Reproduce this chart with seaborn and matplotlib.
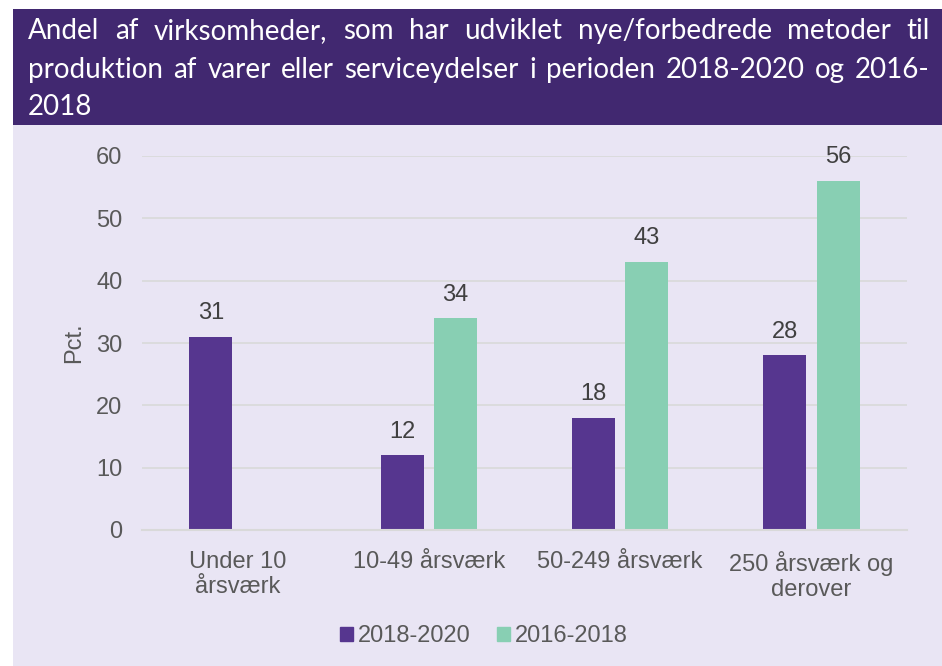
import matplotlib
matplotlib.use("Agg")
import matplotlib.pyplot as plt
import pandas as pd
import seaborn as sns
from matplotlib.patches import Rectangle

# data
categories = ["Under 10\nårsværk", "10-49 årsværk", "50-249 årsværk", "250 årsværk og\nderover"]
series = ["2018-2020", "2016-2018"]
vals_2018_2020 = [31, 12, 18, 28]
vals_2016_2018 = [None, 34, 43, 56]
yticks = [0, 10, 20, 30, 40, 50, 60]

title_lines = [
    "Andel af virksomheder, som har udviklet nye/forbedrede metoder til",
    "produktion af varer eller serviceydelser i perioden 2018-2020 og 2016-",
    "2018",
]

purple = "#56368F"
green = "#88CFB3"
banner = "#412870"
panel = "#E9E5F4"
txt = "#595959"

df = pd.DataFrame({
    "kat": categories * 2,
    "periode": [series[0]] * 4 + [series[1]] * 4,
    "pct": vals_2018_2020 + vals_2016_2018,
})
df["pct"] = df["pct"].astype(float)

sns.set_style("white")
plt.rcParams["font.family"] = ["Liberation Sans", "DejaVu Sans"]

fig = plt.figure(figsize=(9.42, 6.66), dpi=100)
W, H = 942, 666
fig.patches.append(Rectangle((13 / W, 0), 1 - 13 / W, 1 - 125 / H, transform=fig.transFigure,
                             facecolor=panel, edgecolor="none", zorder=-2))
fig.patches.append(Rectangle((13 / W, 1 - 125 / H), 1 - 13 / W, 116 / H, transform=fig.transFigure,
                             facecolor=banner, edgecolor="none", zorder=-2))

# title, justified like the original (last line left aligned)
renderer = fig.canvas.get_renderer()
tfont = dict(color="white", fontsize=20, family=["Lato", "DejaVu Sans"], va="baseline", ha="left")
x0, x1 = 28, 930
for i, (line, base) in enumerate(zip(title_lines, [39, 78, 115])):
    y = 1 - base / H
    if i == len(title_lines) - 1:
        fig.text(x0 / W, y, line, **tfont)
        continue
    words = line.split(" ")
    arts = [fig.text(0, y, w, **tfont) for w in words]
    widths = [a.get_window_extent(renderer).width for a in arts]
    gap = (x1 - x0 - sum(widths)) / (len(words) - 1)
    x = x0
    for a, w in zip(arts, widths):
        a.set_x(x / W)
        x += w + gap

ax = fig.add_axes([142 / W, 1 - 530 / H, 765 / W, 374 / H])
ax.set_facecolor("none")
sns.barplot(data=df, x="kat", y="pct", hue="periode", palette=[purple, green],
            width=0.56, gap=0.2, ax=ax, legend=True, saturation=1, linewidth=0)

ax.set_ylim(0, 60)
ax.set_xlim(-0.5, 3.5)
ax.set_yticks(yticks)
ax.grid(axis="y", color="#D9D9D9", linewidth=1.2)
ax.set_axisbelow(True)
for s in ["top", "right", "left"]:
    ax.spines[s].set_visible(False)
ax.spines["bottom"].set_color("#D9D9D9")
ax.spines["bottom"].set_linewidth(1.5)
ax.tick_params(length=0, labelsize=17, colors=txt)
ax.tick_params(axis="x", pad=15)
ax.tick_params(axis="y", pad=14)
ax.set_xlabel("")
ax.set_ylabel("Pct.", fontsize=17, color=txt, labelpad=8)

for cont in ax.containers:
    ax.bar_label(cont, fmt="%.0f", padding=9, fontsize=17, color="#404040", clip_on=False)

leg = ax.get_legend()
leg.remove()
handles = [Rectangle((0, 0), 1, 1, color=purple), Rectangle((0, 0), 1, 1, color=green)]
fig.legend(handles, series, loc="center", bbox_to_anchor=(484 / W, 1 - 636 / H), ncol=2,
           frameon=False, fontsize=17, labelcolor=txt, handlelength=0.55, handleheight=0.55,
           handletextpad=0.2, columnspacing=1.1)

fig.savefig("out.png", dpi=100)
